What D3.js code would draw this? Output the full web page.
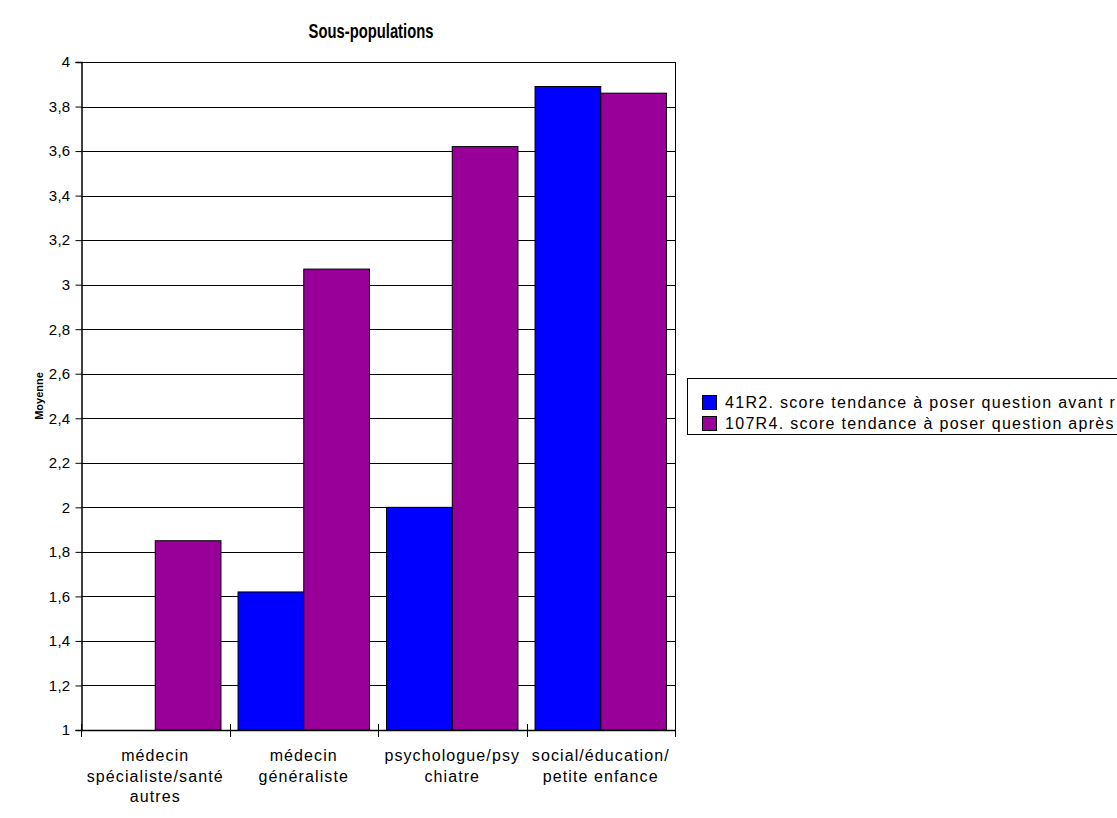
<!DOCTYPE html>
<html>
<head>
<meta charset="utf-8">
<script src="https://cdn.jsdelivr.net/npm/d3@7"></script>
<style>
  html, body { margin: 0; padding: 0; background: #fff; }
  svg { display: block; }
  text { font-family: "Liberation Sans", Arial, sans-serif; fill: #000; }
</style>
</head>
<body>
<script>
// Category labels, split into the lines shown under each group
const categories = ["spec", "gen", "psy", "social"];
const categoryLines = [
  ["médecin", "spécialiste/santé", "autres"],
  ["médecin", "généraliste"],
  ["psychologue/psy", "chiatre"],
  ["social/éducation/", "petite enfance"]
];

// Series (mean scores per sub-population); null = no bar
const seriesNames = [
  "41R2. score tendance à poser question avant r",
  "107R4. score tendance à poser question après"
];
const seriesAvant = [null, 1.62, 2.0, 3.89];
const seriesApres = [1.85, 3.07, 3.62, 3.86];
const seriesColors = ["#0000ff", "#990099"];

const yTicks = [1, 1.2, 1.4, 1.6, 1.8, 2, 2.2, 2.4, 2.6, 2.8, 3, 3.2, 3.4, 3.6, 3.8, 4];

const W = 1117, H = 818;
const plot = { left: 81, right: 675, top: 62, bottom: 730 };

const svg = d3.select("body").append("svg")
  .attr("width", W).attr("height", H);

const x = d3.scaleBand()
  .domain(categories)
  .range([plot.left, plot.right])
  .paddingInner(0.115)
  .paddingOuter(0.0575);

const xSeries = d3.scaleBand()
  .domain([0, 1])
  .range([0, x.bandwidth()]);

const y = d3.scaleLinear()
  .domain([1, 4])
  .range([plot.bottom, plot.top]);

// Title (condensed bold)
svg.append("text")
  .attr("transform", `translate(${371},38) scale(0.74,1)`)
  .attr("text-anchor", "middle")
  .style("font-size", "20px")
  .style("font-weight", "bold")
  .text("Sous-populations");

// Horizontal grid lines
svg.append("g")
  .selectAll("line")
  .data(yTicks)
  .join("line")
  .attr("x1", plot.left).attr("x2", plot.right)
  .attr("y1", d => Math.round(y(d)) + 0.5)
  .attr("y2", d => Math.round(y(d)) + 0.5)
  .attr("stroke", "#000").attr("stroke-width", 1);

// Plot frame (right edge)
svg.append("line")
  .attr("x1", plot.right + 0.5).attr("x2", plot.right + 0.5)
  .attr("y1", plot.top).attr("y2", plot.bottom)
  .attr("stroke", "#000");

// Bars
const series = [seriesAvant, seriesApres];
series.forEach((vals, si) => {
  svg.append("g")
    .selectAll("rect")
    .data(categories.map((c, i) => ({ c, v: vals[i] })).filter(d => d.v != null))
    .join("rect")
    .attr("x", d => x(d.c) + xSeries(si))
    .attr("y", d => y(d.v))
    .attr("width", xSeries.bandwidth())
    .attr("height", d => y(1) - y(d.v))
    .attr("fill", seriesColors[si])
    .attr("stroke", "#000")
    .attr("stroke-width", 1);
});

// Y axis
const yAxis = d3.axisLeft(y)
  .tickValues(yTicks)
  .tickSize(6)
  .tickPadding(5)
  .tickFormat(d => d3.format("~g")(d).replace(".", ","));

const gy = svg.append("g")
  .attr("transform", `translate(${plot.left + 0.5},0)`)
  .call(yAxis);
gy.select(".domain").attr("stroke", "#000").attr("stroke-width", 1.5);
gy.selectAll(".tick line").attr("stroke", "#000");
gy.selectAll(".tick text")
  .style("font-family", "'Liberation Sans', Arial, sans-serif")
  .style("font-size", "15px")
  .style("letter-spacing", "0.3px");

// X axis: ticks at group boundaries
const step = x.step();
const boundaries = d3.range(categories.length + 1).map(i => plot.left + i * step);
svg.append("line")
  .attr("x1", plot.left).attr("x2", plot.right)
  .attr("y1", plot.bottom + 0.5).attr("y2", plot.bottom + 0.5)
  .attr("stroke", "#000").attr("stroke-width", 1.5);
svg.append("g")
  .selectAll("line")
  .data(boundaries)
  .join("line")
  .attr("x1", d => Math.round(d) + 0.5).attr("x2", d => Math.round(d) + 0.5)
  .attr("y1", plot.bottom - 6).attr("y2", plot.bottom + 7)
  .attr("stroke", "#000");

// Category labels
const xl = svg.append("g");
categories.forEach((c, i) => {
  const cx = x(c) + x.bandwidth() / 2;
  const t = xl.append("text")
    .attr("x", cx)
    .attr("y", 761)
    .attr("text-anchor", "middle")
    .style("font-size", "16px")
    .style("letter-spacing", "1.1px");
  categoryLines[i].forEach((line, li) => {
    t.append("tspan")
      .attr("x", cx)
      .attr("dy", li === 0 ? 0 : 20.5)
      .text(line);
  });
});

// Y axis title
svg.append("text")
  .attr("transform", `translate(43,${(plot.top + plot.bottom) / 2}) rotate(-90)`)
  .attr("text-anchor", "middle")
  .style("font-size", "11px")
  .style("font-weight", "bold")
  .text("Moyenne");

// Legend
const lg = svg.append("g");
lg.append("rect")
  .attr("x", 687.5).attr("y", 378.5)
  .attr("width", 500).attr("height", 56)
  .attr("fill", "#fff").attr("stroke", "#000");
seriesNames.forEach((name, i) => {
  lg.append("rect")
    .attr("x", 702.5).attr("y", 395.5 + i * 21)
    .attr("width", 14).attr("height", 14)
    .attr("fill", seriesColors[i]).attr("stroke", "#000");
  lg.append("text")
    .attr("x", 725).attr("y", 408 + i * 21)
    .style("font-size", "16px")
    .style("letter-spacing", "1.3px")
    .text(name);
});
</script>
</body>
</html>
